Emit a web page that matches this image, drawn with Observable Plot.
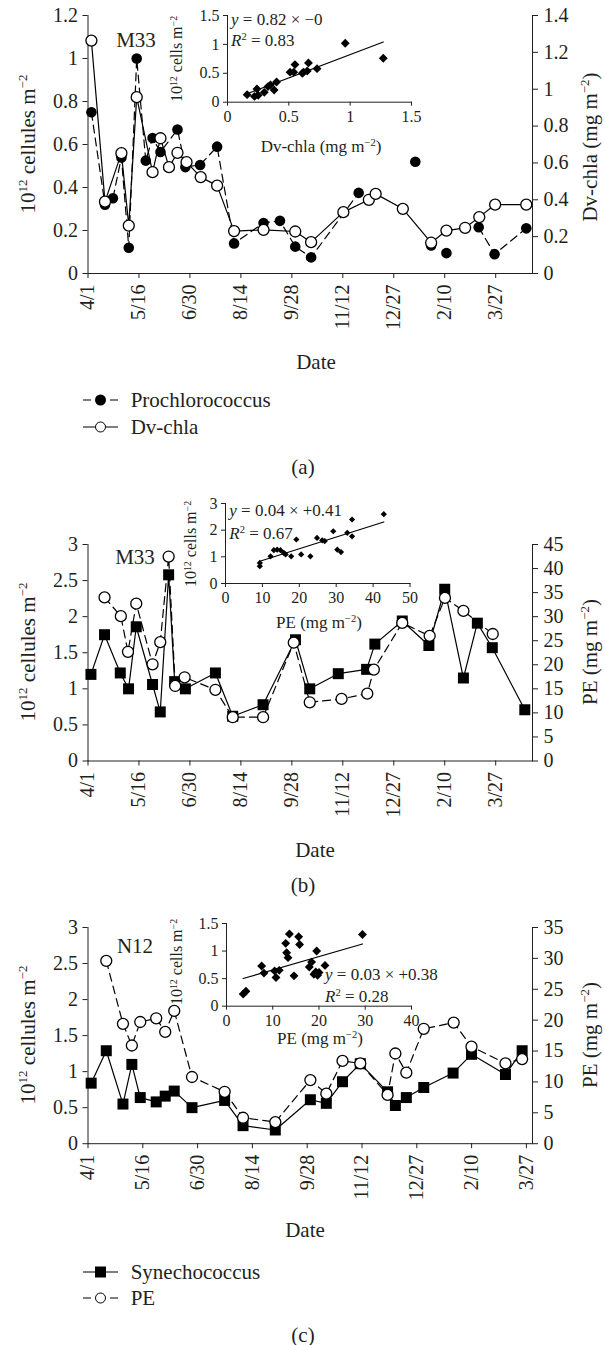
<!DOCTYPE html>
<html>
<head>
<meta charset="utf-8">
<script src="https://cdn.jsdelivr.net/npm/d3@7"></script>
<script src="https://cdn.jsdelivr.net/npm/@observablehq/plot@0.6"></script>
<style>
  body { margin: 0; background: #fff; }
  #root { position: relative; width: 605px; height: 1345px; overflow: hidden;
          font-family: "Liberation Serif", "Times New Roman", serif; color: #231f20; }
  .abs { position: absolute; }
  .t { position: absolute; white-space: nowrap; line-height: 1; }
  .t sup { font-size: 0.62em; vertical-align: 0.55em; line-height: 0; }
  .leg { position: absolute; display: flex; align-items: center; font-size: 21px; line-height: 1; white-space: nowrap; }
  .sw { display: flex; align-items: center; width: 35px; height: 12px; margin-right: 13px; }
  .seg { height: 1.3px; background: #000; }
  .mk { width: 11px; height: 11px; box-sizing: border-box; flex: none; }
  #root svg text { font-family: "Liberation Serif", "Times New Roman", serif !important; fill: #231f20; }
  #root svg.mainplot text { font-size: 20px !important; }
  #root svg.insetplot text { font-size: 16px !important; }
</style>
</head>
<body>
<div id="root"></div>
<script>
// ---------- shared axis ticks (days since 4/1) ----------
const tickDays = [0, 45, 90, 135, 180, 225, 270, 315, 360];
const tickLabels = ["4/1", "5/16", "6/30", "8/14", "9/28", "11/12", "12/27", "2/10", "3/27"];

// ---------- Panel (a): M33, Prochlorococcus vs Dv-chla ----------
const procDays = [3, 15, 22, 29.5, 36, 43, 51, 57, 64, 79, 86, 99, 114, 129, 155, 169.5, 183, 197, 239, 289, 303, 316.5, 345, 359, 387];
const procVals = [0.75, 0.32, 0.35, 0.54, 0.12, 1.0, 0.525, 0.63, 0.565, 0.67, 0.495, 0.505, 0.59, 0.14, 0.235, 0.245, 0.125, 0.075, 0.375, 0.52, 0.13, 0.095, 0.215, 0.09, 0.21];
const procRun  = [1, 1, 1, 1, 1, 1, 1, 1, 1, 1, 1, 1, 1, 1, 1, 1, 1, 1, 1, 2, 3, 4, 5, 5, 5];
const dvDays = [3, 15, 29.5, 36, 43, 57, 64, 71.5, 79, 87, 99.5, 114, 129, 155, 183, 197, 225.5, 248, 254, 278, 303, 316.5, 333, 345.5, 359.5, 387];
const dvVals = [1.264, 0.39, 0.653, 0.26, 0.957, 0.55, 0.734, 0.577, 0.655, 0.604, 0.523, 0.477, 0.23, 0.237, 0.228, 0.17, 0.333, 0.4, 0.432, 0.351, 0.167, 0.233, 0.248, 0.306, 0.374, 0.374];
const insetADv   = [0.16, 0.22, 0.24, 0.25, 0.30, 0.33, 0.35, 0.38, 0.40, 0.51, 0.55, 0.54, 0.61, 0.62, 0.65, 0.66, 0.73, 0.96, 1.27];
const insetAProc = [0.13, 0.10, 0.23, 0.12, 0.17, 0.27, 0.30, 0.21, 0.35, 0.52, 0.65, 0.52, 0.50, 0.52, 0.54, 0.68, 0.58, 1.02, 0.76];

// ---------- Panel (b): M33, Synechococcus vs PE ----------
const synBDays = [2.6, 14.6, 28.5, 35.8, 42.6, 57, 63.8, 71.2, 76.5, 86, 112.5, 127.8, 154.6, 183.2, 195.8, 221, 246, 253.3, 277.5, 301, 315, 331.5, 343.8, 357, 385.7];
const synBVals = [1.2, 1.75, 1.22, 1.0, 1.86, 1.06, 0.68, 2.58, 1.1, 1.0, 1.22, 0.62, 0.78, 1.68, 1.0, 1.21, 1.27, 1.62, 1.94, 1.6, 2.38, 1.15, 1.91, 1.57, 0.71];
const peBDays = [14.6, 29, 35.3, 42.6, 57, 63.8, 71.2, 77, 85.3, 112.5, 127.8, 154.6, 181.7, 195.8, 223.9, 246.6, 252.4, 277.5, 301.7, 315.2, 331.5, 357.4];
const peBVals = [34, 30.1, 22.7, 32.7, 20.1, 24.7, 42.5, 15.6, 17.4, 14.8, 9.1, 9.1, 24.6, 12.2, 12.9, 14, 19, 28.7, 26, 33.9, 31.2, 26.4];
const insetBPE  = [9.3, 9.3, 12.2, 13.1, 14, 14.9, 15.8, 16.3, 17.8, 19.2, 20.5, 23, 24.8, 26.2, 26.9, 29.2, 30.3, 31.3, 33, 34.3, 34.3, 42.9];
const insetBSyn = [0.77, 0.65, 1.02, 1.25, 1.27, 1.25, 1.15, 1.09, 1.02, 1.65, 1.09, 1.02, 1.71, 1.62, 1.59, 1.96, 1.27, 1.18, 1.9, 1.77, 2.4, 2.6];

// ---------- Panel (c): N12, Synechococcus vs PE ----------
const synCDays = [2.6, 15, 28.7, 36, 42.9, 56, 63.4, 70.8, 85.4, 112.2, 127.3, 153.8, 182.6, 195.7, 209, 223.6, 246, 252.4, 261.4, 275.7, 299.8, 314.9, 342.8, 356.5];
const synCVals = [0.84, 1.29, 0.55, 1.1, 0.64, 0.58, 0.66, 0.73, 0.5, 0.6, 0.25, 0.19, 0.61, 0.56, 0.86, 1.11, 0.72, 0.53, 0.64, 0.78, 0.98, 1.24, 0.96, 1.29];
const peCDays = [15, 28.7, 36, 42.9, 56, 63.4, 70.8, 85.4, 112.2, 127.3, 153.8, 182.6, 195.7, 209, 223.6, 246, 252.4, 261.4, 275.7, 300.3, 314.9, 342.8, 356.5];
const peCVals = [29.6, 19.4, 15.9, 19.7, 20.3, 18.1, 21.5, 10.8, 8.4, 4.2, 3.5, 10.3, 8.1, 13.4, 13.0, 7.9, 14.6, 11.5, 18.6, 19.6, 15.7, 13.0, 13.7];
const insetCPE  = [3.6, 4.2, 7.6, 8.1, 10.4, 10.7, 11.4, 12.8, 13.0, 13.3, 13.6, 14.6, 15.6, 15.8, 17.9, 18.4, 18.9, 19.3, 19.7, 19.5, 20.0, 21.3, 29.4];
const insetCSyn = [0.22, 0.27, 0.73, 0.60, 0.64, 0.52, 0.65, 1.14, 0.97, 0.88, 1.31, 0.55, 1.26, 1.12, 0.71, 0.80, 0.58, 0.62, 0.56, 1.00, 0.61, 0.74, 1.30];

// ---------- helpers ----------
const root = document.getElementById("root");
const FONT = '"Liberation Serif", "Times New Roman", serif';
const fmt = d3.format("~g");
const series = (days, vals, runs) => days.map((d, i) => ({day: d, v: vals[i], run: runs ? runs[i] : 1}));
const pairs = (xs, ys) => xs.map((x, i) => ({x, y: ys[i]}));

function place(node, left, top, cls) {
  node.classList.add("abs");
  if (cls) node.classList.add(cls);
  node.style.left = left + "px";
  node.style.top = top + "px";
  root.appendChild(node);
}

function txt(html, x, y, {size = 21, anchor = "middle", rotate = 0} = {}) {
  const d = document.createElement("div");
  d.className = "t";
  d.innerHTML = html;
  d.style.left = x + "px";
  d.style.top = y + "px";
  d.style.fontSize = size + "px";
  const tx = anchor === "middle" ? "-50%" : anchor === "start" ? "0" : "-100%";
  d.style.transform = `translate(${tx},-50%)` + (rotate ? ` rotate(${rotate}deg)` : "");
  root.appendChild(d);
}

function legendRow(y, {dashed, marker, filled}, label) {
  const row = document.createElement("div");
  row.className = "leg";
  row.style.left = "82.7px";
  row.style.top = y + "px";
  row.style.transform = "translateY(-50%)";
  const sw = document.createElement("div");
  sw.className = "sw";
  const seg = w => { const s = document.createElement("div"); s.className = "seg"; s.style.width = w + "px"; return s; };
  const gap = w => { const s = document.createElement("div"); s.style.width = w + "px"; return s; };
  const mk = document.createElement("div");
  mk.className = "mk";
  if (marker === "circle") mk.style.borderRadius = "50%";
  if (filled) mk.style.background = "#000";
  else { mk.style.background = "#fff"; mk.style.border = "1.3px solid #000"; }
  if (dashed) { sw.append(seg(8), gap(4), mk, gap(4), seg(8)); }
  else { sw.append(seg(12), mk, seg(12)); }
  const t = document.createElement("span");
  t.textContent = label;
  row.append(sw, t);
  root.appendChild(row);
}

const AREA_TOP = 15, AREA_BOTTOM_MARGIN = 60, ML = 87.5, MR = 73;

function mainPlots({top, areaH, xMax, leftDomain, leftTicks, rightDomain, rightTicks, baseMarks, overMarks}) {
  const height = AREA_TOP + areaH + AREA_BOTTOM_MARGIN;
  const common = {
    width: 605, height, marginTop: AREA_TOP, marginBottom: AREA_BOTTOM_MARGIN, marginLeft: ML, marginRight: MR,
    style: {background: "transparent", fontFamily: FONT, fontSize: "20px", color: "#231f20", overflow: "visible"}
  };
  const base = Plot.plot({
    ...common,
    x: {domain: [0, xMax], ticks: tickDays, tickFormat: d => tickLabels[tickDays.indexOf(d)], tickRotate: -90,
        tickSize: 5, tickPadding: 6, line: true, label: null},
    y: {domain: leftDomain, ticks: leftTicks, tickFormat: fmt, tickSize: 5, tickPadding: 5, line: true, label: null},
    marks: baseMarks
  });
  const over = Plot.plot({
    ...common,
    x: {domain: [0, xMax], axis: null},
    y: {domain: rightDomain, ticks: rightTicks, tickFormat: fmt, axis: "right", tickSize: 5, tickPadding: 6, line: true, label: null},
    marks: overMarks
  });
  place(base, 0, top, "mainplot");
  place(over, 0, top, "mainplot");
}

function insetPlot({left, top, areaW, areaH, xDomain, xTicks, yDomain, yTicks, data, r}) {
  const ml = 40, mt = 6, mb = 40, mr = 12;
  const p = Plot.plot({
    width: ml + areaW + mr, height: mt + areaH + mb,
    marginLeft: ml, marginTop: mt, marginBottom: mb, marginRight: mr,
    style: {background: "transparent", fontFamily: FONT, fontSize: "16px", color: "#231f20", overflow: "visible"},
    x: {domain: xDomain, ticks: xTicks, tickFormat: fmt, tickSize: 4, tickPadding: 4, line: true, label: null},
    y: {domain: yDomain, ticks: yTicks, tickFormat: fmt, tickSize: 4, tickPadding: 4, line: true, label: null},
    marks: [
      Plot.linearRegressionY(data, {x: "x", y: "y", ci: 0, stroke: "#000", strokeWidth: 1.2}),
      Plot.dot(data, {x: "x", y: "y", symbol: "diamond2", r, fill: "#000", stroke: "none"})
    ]
  });
  place(p, left - ml, top - mt, "insetplot");
}

const dashed = "8,5";
const lineOpts = (extra) => ({x: "day", y: "v", stroke: "#000", strokeWidth: 1.2, ...extra});

// ================= Panel (a) =================
const proc = series(procDays, procVals, procRun);
const dv = series(dvDays, dvVals);
mainPlots({
  top: 0, areaH: 258, xMax: 392.5,
  leftDomain: [0, 1.2], leftTicks: [0, 0.2, 0.4, 0.6, 0.8, 1, 1.2],
  rightDomain: [0, 1.4], rightTicks: [0, 0.2, 0.4, 0.6, 0.8, 1, 1.2, 1.4],
  baseMarks: [
    Plot.line(proc, lineOpts({z: "run", strokeDasharray: dashed})),
    Plot.dot(proc, {x: "day", y: "v", r: 5.3, fill: "#000", stroke: "none"})
  ],
  overMarks: [
    Plot.line(dv, lineOpts({})),
    Plot.dot(dv, {x: "day", y: "v", r: 5.5, fill: "#fff", stroke: "#000", strokeWidth: 1.3})
  ]
});
insetPlot({left: 226.7, top: 15, areaW: 184, areaH: 86.7, xDomain: [0, 1.5], xTicks: [0, 0.5, 1, 1.5],
           yDomain: [0, 1.5], yTicks: [0, 0.5, 1, 1.5], data: pairs(insetADv, insetAProc), r: 4});
txt("10<sup>12</sup> cellules m<sup>−2</sup>", 28, 144, {rotate: -90});
txt("Dv-chla (mg m<sup>−2</sup>)", 590, 147, {rotate: -90});
txt("M33", 136, 40);
txt("<i>y</i> = 0.82 × −0", 231, 19, {size: 17, anchor: "start"});
txt("<i>R</i><sup>2</sup> = 0.83", 231, 40, {size: 17, anchor: "start"});
txt("10<sup>12</sup> cells m<sup>−2</sup>", 177, 59, {size: 16, rotate: -90});
txt("Dv-chla (mg m<sup>−2</sup>)", 321, 146, {size: 17});
txt("Date", 316, 362);
legendRow(400, {dashed: true, marker: "circle", filled: true}, "Prochlorococcus");
legendRow(427, {dashed: false, marker: "circle", filled: false}, "Dv-chla");
txt("(a)", 303, 467);

// ================= Panel (b) =================
const synB = series(synBDays, synBVals);
const peB = series(peBDays, peBVals);
mainPlots({
  top: 528.5, areaH: 216.5, xMax: 392.5,
  leftDomain: [0, 3], leftTicks: [0, 0.5, 1, 1.5, 2, 2.5, 3],
  rightDomain: [0, 45], rightTicks: [0, 5, 10, 15, 20, 25, 30, 35, 40, 45],
  baseMarks: [
    Plot.line(synB, lineOpts({})),
    Plot.dot(synB, {x: "day", y: "v", symbol: "square", r: 6.2, fill: "#000", stroke: "none"})
  ],
  overMarks: [
    Plot.line(peB, lineOpts({strokeDasharray: dashed})),
    Plot.dot(peB, {x: "day", y: "v", r: 5.5, fill: "#fff", stroke: "#000", strokeWidth: 1.3})
  ]
});
insetPlot({left: 225, top: 503.3, areaW: 184.5, areaH: 80, xDomain: [0, 50], xTicks: [0, 10, 20, 30, 40, 50],
           yDomain: [0, 3], yTicks: [0, 1, 2, 3], data: pairs(insetBPE, insetBSyn), r: 2.8});
txt("10<sup>12</sup> cellules m<sup>−2</sup>", 28, 652, {rotate: -90});
txt("PE (mg m<sup>−2</sup>)", 590, 652, {rotate: -90});
txt("M33", 135, 557);
txt("<i>y</i> = 0.04 × +0.41", 229.3, 510, {size: 17, anchor: "start"});
txt("<i>R</i><sup>2</sup> = 0.67", 229.3, 533, {size: 17, anchor: "start"});
txt("10<sup>12</sup> cells m<sup>−2</sup>", 191, 544, {size: 16, rotate: -90});
txt("PE (mg m<sup>−2</sup>)", 319, 622, {size: 17});
txt("Date", 315, 850);
txt("(b)", 303, 885);

// ================= Panel (c) =================
const synC = series(synCDays, synCVals);
const peC = series(peCDays, peCVals);
mainPlots({
  top: 912.3, areaH: 216.2, xMax: 365,
  leftDomain: [0, 3], leftTicks: [0, 0.5, 1, 1.5, 2, 2.5, 3],
  rightDomain: [0, 35], rightTicks: [0, 5, 10, 15, 20, 25, 30, 35],
  baseMarks: [
    Plot.line(synC, lineOpts({})),
    Plot.dot(synC, {x: "day", y: "v", symbol: "square", r: 6.2, fill: "#000", stroke: "none"})
  ],
  overMarks: [
    Plot.line(peC, lineOpts({strokeDasharray: dashed})),
    Plot.dot(peC, {x: "day", y: "v", r: 5.5, fill: "#fff", stroke: "#000", strokeWidth: 1.3})
  ]
});
insetPlot({left: 225.7, top: 923.3, areaW: 185, areaH: 82.7, xDomain: [0, 40], xTicks: [0, 10, 20, 30, 40],
           yDomain: [0, 1.5], yTicks: [0, 0.5, 1, 1.5], data: pairs(insetCPE, insetCSyn), r: 4});
txt("10<sup>12</sup> cellules m<sup>−2</sup>", 28, 1035, {rotate: -90});
txt("PE (mg m<sup>−2</sup>)", 590, 1035, {rotate: -90});
txt("N12", 135, 946);
txt("<i>y</i> = 0.03 × +0.38", 325, 974, {size: 17, anchor: "start"});
txt("<i>R</i><sup>2</sup> = 0.28", 325, 996, {size: 17, anchor: "start"});
txt("10<sup>12</sup> cells m<sup>−2</sup>", 177, 962, {size: 16, rotate: -90});
txt("PE (mg m<sup>−2</sup>)", 320, 1038, {size: 17});
txt("Date", 305, 1230);
legendRow(1271.7, {dashed: false, marker: "square", filled: true}, "Synechococcus");
legendRow(1298.3, {dashed: true, marker: "circle", filled: false}, "PE");
txt("(c)", 303, 1335);
</script>
</body>
</html>
